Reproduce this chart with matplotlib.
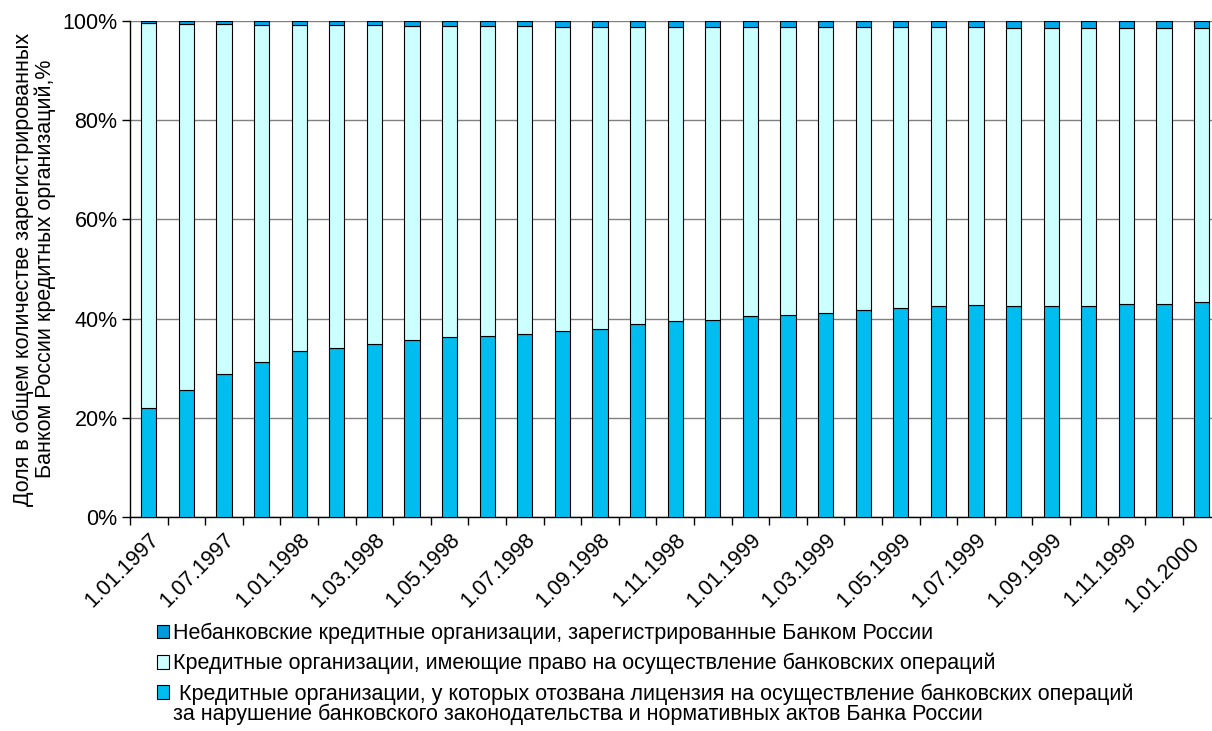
import matplotlib
matplotlib.use('Agg')
import matplotlib.pyplot as plt
import matplotlib.transforms as mtransforms
from matplotlib.patches import Patch
import numpy as np

plt.rcParams['font.family'] = ['Liberation Sans', 'DejaVu Sans']

# даты (на начало месяца), подписи каждой второй
dates = ['1.01.1997', '1.04.1997', '1.07.1997', '1.10.1997', '1.01.1998',
         '1.02.1998', '1.03.1998', '1.04.1998', '1.05.1998', '1.06.1998',
         '1.07.1998', '1.08.1998', '1.09.1998', '1.10.1998', '1.11.1998',
         '1.12.1998', '1.01.1999', '1.02.1999', '1.03.1999', '1.04.1999',
         '1.05.1999', '1.06.1999', '1.07.1999', '1.08.1999', '1.09.1999',
         '1.10.1999', '1.11.1999', '1.12.1999', '1.01.2000']

# доля КО с отозванной лицензией, %
revoked = [22.0, 25.6, 28.9, 31.2, 33.5, 34.0, 34.9, 35.6, 36.3, 36.5,
           36.8, 37.5, 37.9, 38.9, 39.6, 39.8, 40.6, 40.7, 41.1, 41.8,
           42.1, 42.6, 42.7, 42.6, 42.6, 42.6, 43.0, 43.0, 43.3]

# доля действующих КО, %
active = [77.5, 73.8, 70.4, 68.0, 65.6, 65.1, 64.2, 63.4, 62.6, 62.4,
          62.1, 61.3, 60.9, 59.9, 59.2, 59.0, 58.2, 58.0, 57.6, 56.9,
          56.6, 56.1, 56.0, 56.0, 56.0, 56.0, 55.6, 55.6, 55.2]

# доля небанковских КО, %
nonbank = [0.5, 0.6, 0.7, 0.8, 0.9, 0.9, 0.9, 1.0, 1.1, 1.1,
           1.1, 1.2, 1.2, 1.2, 1.2, 1.2, 1.2, 1.3, 1.3, 1.3,
           1.3, 1.3, 1.3, 1.4, 1.4, 1.4, 1.4, 1.4, 1.5]

labels = ['Небанковские кредитные организации, зарегистрированные Банком России',
          'Кредитные организации, имеющие право на осуществление банковских операций',
          ' Кредитные организации, у которых отозвана лицензия на осуществление банковских операций']
label3_cont = 'за нарушение банковского законодательства и нормативных актов Банка России'

c_nonbank = '#00A8EC'
c_active = '#CCFFFF'
c_revoked = '#00BDF0'
fs = 15.5

W, H = 1212, 731
fig = plt.figure(figsize=(W / 100, H / 100), dpi=100)
n = len(dates)
# ось шире картинки: последний столбец обрезан справа, как в оригинале
ax = fig.add_axes([130 / W, 214 / H, (n * 37.6) / W, 496 / H])

x = np.arange(n) + 0.5
bot2 = np.array(revoked) + np.array(active)
ax.bar(x, revoked, width=0.4, color=c_revoked, edgecolor='black', linewidth=0.8, zorder=3)
ax.bar(x, active, width=0.4, bottom=revoked, color=c_active, edgecolor='black', linewidth=0.8, zorder=3)
ax.bar(x, nonbank, width=0.4, bottom=bot2, color=c_nonbank, edgecolor='black', linewidth=0.8, zorder=3)

ax.set_xlim(0, n)
ax.set_ylim(0, 100)
ax.set_yticks(np.arange(0, 101, 20))
ax.set_yticklabels([f'{v}%' for v in range(0, 101, 20)], fontsize=fs)
ax.yaxis.grid(True, color='#808080', linewidth=1.0, zorder=0)
ax.set_axisbelow(True)

for s in ['top', 'right']:
    ax.spines[s].set_visible(False)
ax.spines['left'].set_linewidth(1.0)
ax.spines['bottom'].set_linewidth(1.0)

ax.set_xticks(x[::2])
ax.set_xticklabels(dates[::2], rotation=45, ha='right', va='top',
                   rotation_mode='anchor', fontsize=fs)
ax.set_xticks(np.arange(n + 1), minor=True)
ax.tick_params(axis='x', which='major', length=0, pad=9)
ax.tick_params(axis='x', which='minor', length=6, width=1.0)
ax.tick_params(axis='y', length=6, width=1.0, pad=3)

# последняя подпись в оригинале сдвинута влево, чтобы не обрезалась
last = ax.get_xticklabels()[-1]
last.set_transform(last.get_transform() +
                   mtransforms.ScaledTranslation(-12 / 100, -4 / 100, fig.dpi_scale_trans))

ax.set_ylabel('Доля в общем количестве зарегистрированных\nБанком России кредитных организаций,%',
              fontsize=fs, linespacing=1.0)
ax.yaxis.set_label_coords((56 - 130) / (n * 37.6), 0.5)

handles = [Patch(facecolor='#009ADD', edgecolor='black', linewidth=0.8),
           Patch(facecolor=c_active, edgecolor='black', linewidth=0.8),
           Patch(facecolor=c_revoked, edgecolor='black', linewidth=0.8)]
leg = fig.legend(handles, labels, loc='upper left', bbox_to_anchor=(157 / W, 1 - 623 / H),
                 frameon=False, fontsize=fs, handlelength=0.58, handleheight=0.58,
                 handletextpad=0.15, labelspacing=0.4, borderaxespad=0, borderpad=0)

# вторая строка третьего пункта легенды
fig.canvas.draw()
bb = leg.get_texts()[2].get_window_extent()
fig.text(bb.x0 / W, (bb.y0 + 1) / H, label3_cont, fontsize=fs, va='top', ha='left')

fig.savefig('out.png', dpi=100)
